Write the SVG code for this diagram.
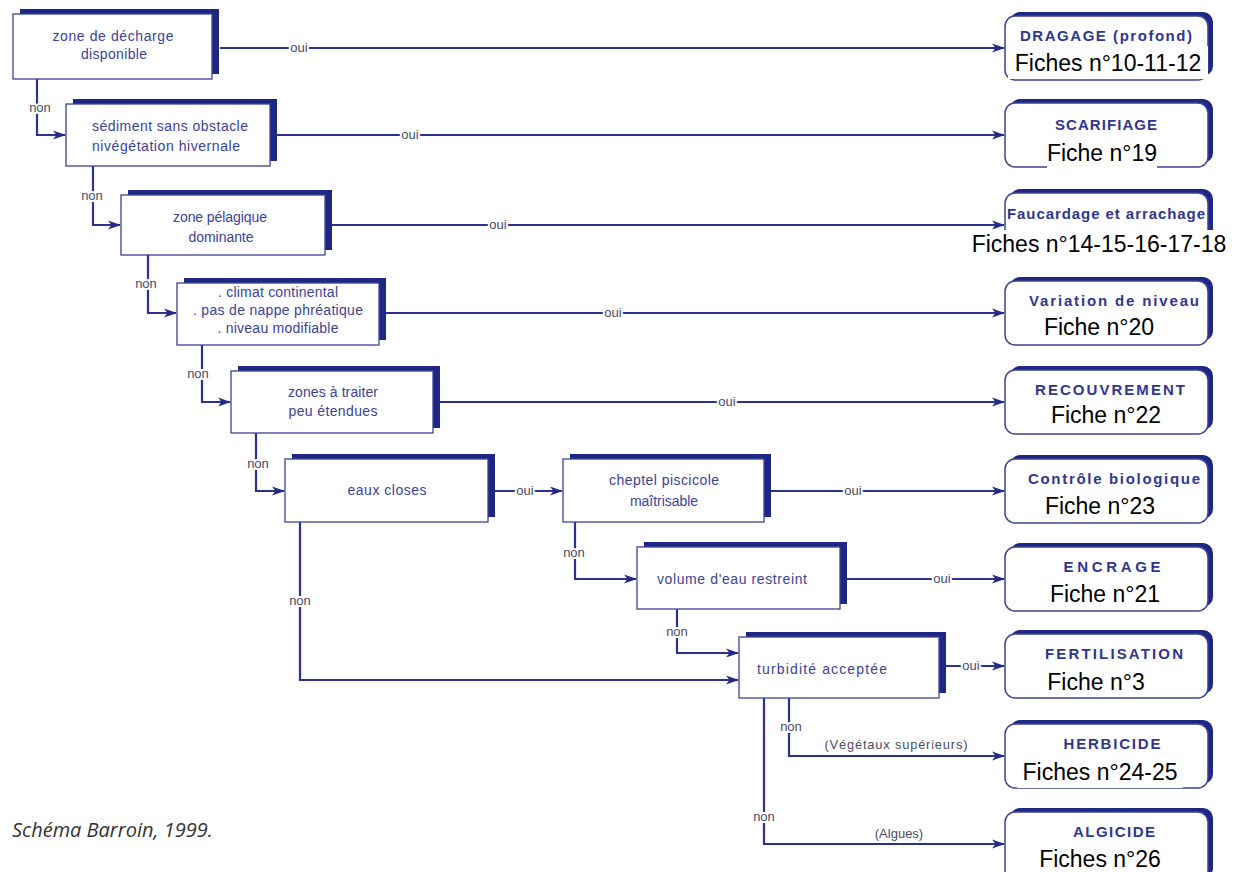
<svg xmlns="http://www.w3.org/2000/svg" width="1234" height="872" viewBox="0 0 1234 872">
<defs>
<style>
.sh{fill:#1f2784}
.bx{fill:#fff;stroke:#3d4392;stroke-width:1.3}
.rb{fill:#fff;stroke:#3d4392;stroke-width:1.5}
.t{font-family:"Liberation Sans",Arial,sans-serif;font-size:14px;fill:#3b4398;text-anchor:middle}
.ttl{font-family:"Liberation Sans",Arial,sans-serif;font-size:15px;font-weight:bold;fill:#2f3790;text-anchor:middle}
.fi{font-family:"Liberation Sans",Arial,sans-serif;font-size:23px;fill:#000;text-anchor:middle}
.wb{fill:#fff}
.ln{fill:none;stroke:#2a3190;stroke-width:2.2}
.ar{marker-end:url(#ah)}
.lb{font-family:"Liberation Sans",Arial,sans-serif;font-size:13px;fill:#4a4a66;text-anchor:middle;paint-order:stroke;stroke:#fff;stroke-width:4px}
.cap{font-family:"Open Sans","Liberation Sans",sans-serif;font-size:20px;font-style:italic;fill:#333}
</style>
<marker id="ah" markerWidth="13" markerHeight="10" refX="12" refY="5" orient="auto" markerUnits="userSpaceOnUse">
<path d="M0,0.5 L13,5 L0,9.5 L3.5,5 z" fill="#232a8a"/>
</marker>
</defs>

<g id="connectors">
<path class="ln ar" d="M220,48 H1004"/>
<path class="ln ar" d="M277,135 H1004"/>
<path class="ln ar" d="M332,225 H1004"/>
<path class="ln ar" d="M386,313 H1004"/>
<path class="ln ar" d="M440,402 H1004"/>
<path class="ln ar" d="M495,491 H562"/>
<path class="ln ar" d="M771,491 H1004"/>
<path class="ln ar" d="M847,579 H1004"/>
<path class="ln ar" d="M946,666 H1004"/>
<path class="ln ar" d="M37,79 V135 H65"/>
<path class="ln ar" d="M93,166 V225 H120"/>
<path class="ln ar" d="M148,255 V313 H176"/>
<path class="ln ar" d="M202,345 V402 H230"/>
<path class="ln ar" d="M256,433 V491 H284"/>
<path class="ln ar" d="M300,522 V680 H738"/>
<path class="ln ar" d="M575,522 V579 H636"/>
<path class="ln ar" d="M677,609 V653 H738"/>
<path class="ln ar" d="M789,698 V756 H1004"/>
<path class="ln ar" d="M764,698 V844 H1004"/>
<text class="lb" x="299" y="52">oui</text>
<text class="lb" x="410" y="139">oui</text>
<text class="lb" x="498" y="229">oui</text>
<text class="lb" x="613" y="317">oui</text>
<text class="lb" x="727" y="406">oui</text>
<text class="lb" x="525" y="495">oui</text>
<text class="lb" x="853" y="495">oui</text>
<text class="lb" x="942" y="583">oui</text>
<text class="lb" x="971" y="670">oui</text>
<text class="lb" x="40" y="112">non</text>
<text class="lb" x="92" y="200">non</text>
<text class="lb" x="146" y="288">non</text>
<text class="lb" x="198" y="378">non</text>
<text class="lb" x="258" y="468">non</text>
<text class="lb" x="300" y="605">non</text>
<text class="lb" x="574" y="557">non</text>
<text class="lb" x="677" y="636">non</text>
<text class="lb" x="791" y="731">non</text>
<text class="lb" x="764" y="821">non</text>
<text class="lb" x="896" y="749" textLength="143">(Végétaux supérieurs)</text>
<text class="lb" x="899" y="838">(Algues)</text>
</g>

<g id="d1"><rect class="sh" x="20" y="9" width="199" height="65"/><rect class="bx" x="13" y="14" width="199" height="65"/>
<text class="t" x="113" y="41" textLength="121">zone de décharge</text><text class="t" x="114" y="59" textLength="66">disponible</text></g>
<g id="d2"><rect class="sh" x="73" y="99" width="204" height="62"/><rect class="bx" x="66" y="104" width="204" height="62"/>
<text class="t" x="170" y="131" textLength="156">sédiment sans obstacle</text><text class="t" x="166" y="151" textLength="148">nivégétation hivernale</text></g>
<g id="d3"><rect class="sh" x="128" y="190" width="204" height="60"/><rect class="bx" x="121" y="195" width="204" height="60"/>
<text class="t" x="220" y="222" textLength="94">zone pélagique</text><text class="t" x="221" y="242" textLength="65">dominante</text></g>
<g id="d4"><rect class="sh" x="184" y="278" width="202" height="62"/><rect class="bx" x="177" y="283" width="202" height="62"/>
<text class="t" x="278" y="297" textLength="120">. climat continental</text><text class="t" x="278" y="315" textLength="170">. pas de nappe phréatique</text><text class="t" x="278" y="333" textLength="121">. niveau modifiable</text></g>
<g id="d5"><rect class="sh" x="238" y="366" width="202" height="62"/><rect class="bx" x="231" y="371" width="202" height="62"/>
<text class="t" x="333" y="397" textLength="90">zones à traiter</text><text class="t" x="333" y="416" textLength="89">peu étendues</text></g>
<g id="d6"><rect class="sh" x="292" y="454" width="203" height="63"/><rect class="bx" x="285" y="459" width="203" height="63"/>
<text class="t" x="387" y="495" textLength="79">eaux closes</text></g>
<g id="d7"><rect class="sh" x="570" y="454" width="201" height="63"/><rect class="bx" x="563" y="459" width="201" height="63"/>
<text class="t" x="664" y="485" textLength="110">cheptel piscicole</text><text class="t" x="664" y="506" textLength="68">maîtrisable</text></g>
<g id="d8"><rect class="sh" x="644" y="542" width="203" height="62"/><rect class="bx" x="637" y="547" width="203" height="62"/>
<text class="t" x="732" y="584" textLength="150">volume d'eau restreint</text></g>
<g id="d9"><rect class="sh" x="746" y="632" width="200" height="61"/><rect class="bx" x="739" y="637" width="200" height="61"/>
<text class="t" x="822" y="674" textLength="130">turbidité acceptée</text></g>

<g id="r1"><rect class="sh" x="1010" y="12" width="203" height="64" rx="10"/><rect class="rb" x="1005" y="16" width="203" height="64" rx="10"/>
<text class="ttl" x="1106" y="41" textLength="172">DRAGAGE (profond)</text>
<rect class="wb" x="1008" y="46" width="200" height="33"/><text class="fi" x="1108" y="71">Fiches n°10-11-12</text></g>
<g id="r2"><rect class="sh" x="1010" y="99" width="203" height="64" rx="10"/><rect class="rb" x="1005" y="103" width="203" height="64" rx="10"/>
<text class="ttl" x="1106" y="130" textLength="102">SCARIFIAGE</text>
<rect class="wb" x="1047" y="139" width="110" height="29"/><text class="fi" x="1102" y="161">Fiche n°19</text></g>
<g id="r3"><rect class="sh" x="1010" y="189" width="203" height="64" rx="10"/><rect class="rb" x="1005" y="193" width="203" height="64" rx="10"/>
<text class="ttl" x="1106" y="219" textLength="198">Faucardage et arrachage</text>
<rect class="wb" x="965" y="230" width="269" height="28"/><text class="fi" x="1099" y="252">Fiches n°14-15-16-17-18</text></g>
<g id="r4"><rect class="sh" x="1010" y="277" width="203" height="64" rx="10"/><rect class="rb" x="1005" y="281" width="203" height="64" rx="10"/>
<text class="ttl" x="1114" y="306" textLength="170">Variation de niveau</text>
<rect class="wb" x="1042" y="314" width="114" height="29"/><text class="fi" x="1099" y="335">Fiche n°20</text></g>
<g id="r5"><rect class="sh" x="1010" y="366" width="203" height="64" rx="10"/><rect class="rb" x="1005" y="370" width="203" height="64" rx="10"/>
<text class="ttl" x="1110" y="395" textLength="150">RECOUVREMENT</text>
<rect class="wb" x="1048" y="402" width="116" height="30"/><text class="fi" x="1106" y="423">Fiche n°22</text></g>
<g id="r6"><rect class="sh" x="1010" y="455" width="203" height="64" rx="10"/><rect class="rb" x="1005" y="459" width="203" height="64" rx="10"/>
<text class="ttl" x="1114" y="484" textLength="172">Contrôle biologique</text>
<rect class="wb" x="1042" y="492" width="116" height="30"/><text class="fi" x="1100" y="514">Fiche n°23</text></g>
<g id="r7"><rect class="sh" x="1010" y="543" width="203" height="64" rx="10"/><rect class="rb" x="1005" y="547" width="203" height="64" rx="10"/>
<text class="ttl" x="1112" y="572" textLength="97">ENCRAGE</text>
<rect class="wb" x="1047" y="580" width="116" height="30"/><text class="fi" x="1105" y="602">Fiche n°21</text></g>
<g id="r8"><rect class="sh" x="1010" y="630" width="203" height="64" rx="10"/><rect class="rb" x="1005" y="634" width="203" height="64" rx="10"/>
<text class="ttl" x="1114" y="659" textLength="138">FERTILISATION</text>
<rect class="wb" x="1046" y="668" width="100" height="29"/><text class="fi" x="1096" y="690">Fiche n°3</text></g>
<g id="r9"><rect class="sh" x="1010" y="720" width="203" height="64" rx="10"/><rect class="rb" x="1005" y="724" width="203" height="64" rx="10"/>
<text class="ttl" x="1112" y="749" textLength="97">HERBICIDE</text>
<rect class="wb" x="1017" y="758" width="166" height="30"/><text class="fi" x="1100" y="780">Fiches n°24-25</text></g>
<g id="r10"><rect class="sh" x="1010" y="808" width="203" height="70" rx="10"/><rect class="rb" x="1005" y="812" width="203" height="70" rx="10"/>
<text class="ttl" x="1114" y="837" textLength="82">ALGICIDE</text>
<rect class="wb" x="1034" y="846" width="132" height="26"/><text class="fi" x="1100" y="867">Fiches n°26</text></g>

<text class="cap" x="12" y="837">Schéma Barroin, 1999.</text>
</svg>
